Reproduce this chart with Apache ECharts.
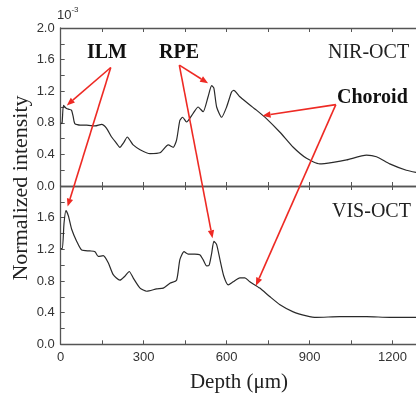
<!DOCTYPE html>
<html><head><meta charset="utf-8">
<script src="https://cdn.jsdelivr.net/npm/echarts@6/dist/echarts.min.js"></script>
<style>html,body{margin:0;padding:0;background:#fff}#c{width:416px;height:396px}</style>
</head><body><div id="c"></div>
<script>
// Depth (µm) and normalized intensity (×10^-3)
const nirDepth = [0,5,10,21,30,39,45,51,70,94,124,148,166,184,200,214,228,241,252,262,287,323,359,389,407,419,431,441,455,479,497,515,533,546,554,564,582,600,618,626,648,672,708,745,793,841,889,937,985,1034,1106,1142,1190,1250,1290];
const nirValues = [0.79,0.80,1.02,0.98,0.97,0.96,0.88,0.79,0.77,0.77,0.76,0.78,0.73,0.62,0.55,0.49,0.55,0.62,0.57,0.52,0.46,0.41,0.42,0.52,0.49,0.58,0.83,0.87,0.81,0.92,1.00,0.94,1.13,1.27,1.24,1.00,0.87,1.00,1.19,1.21,1.13,1.06,0.96,0.85,0.68,0.49,0.35,0.28,0.30,0.33,0.39,0.37,0.28,0.20,0.17];
const visDepth = [0,6,12,19,28,40,58,76,106,124,136,154,172,190,214,232,248,262,287,311,347,371,395,419,431,446,461,485,503,515,528,537,546,554,564,576,590,606,624,648,666,684,720,757,793,841,889,925,1009,1106,1190,1290];
const visValues = [1.21,1.21,1.53,1.69,1.62,1.45,1.30,1.19,1.18,1.17,1.11,1.12,1.03,0.88,0.81,0.86,0.92,0.84,0.71,0.67,0.70,0.71,0.77,0.81,1.07,1.17,1.14,1.14,1.13,1.07,0.99,1.00,1.15,1.30,1.26,1.07,0.86,0.75,0.79,0.84,0.84,0.79,0.71,0.60,0.50,0.41,0.36,0.34,0.35,0.35,0.34,0.34];
const xTicks = [0,300,600,900,1200];
const yTicksTop = [0.0,0.4,0.8,1.2,1.6,2.0];
const yTicksBottom = [0.0,0.4,0.8,1.2,1.6];
// annotation arrows: [fromX, fromY (top panel), toX, toY, target grid]
const arrows = [
  [181,1.50, 22,1.02, 0],
  [181,1.50, 25,1.74, 1],
  [429,1.53, 533,1.30, 0],
  [429,1.53, 549,1.34, 1],
  [995,1.03, 730,0.89, 0],
  [995,1.03, 706,0.74, 1]
];

const AXIS = '#555', LBL = '#333', RED = '#ee2a24';
const XMAX = 1285;
const chart = echarts.init(document.getElementById('c'), null, {renderer:'canvas'});
const W = XMAX*0.2767;
function xAx(gi, pos, labels){
  return {type:'value', gridIndex:gi, position:pos, min:0, max:XMAX, interval:150,
    axisLine:{show:true,onZero:false,lineStyle:{color:AXIS,width:1.3}},
    axisTick:{show:true,inside:true,length:4,lineStyle:{color:AXIS}},
    splitLine:{show:false},
    axisLabel:{show:labels,color:LBL,fontSize:13,fontFamily:'Liberation Sans',margin:7,
      showMaxLabel:false,
      formatter:v=>xTicks.includes(v)?String(v):''}};
}
function yAx(gi, ticks){
  return {type:'value', gridIndex:gi, min:0, max:2, interval:0.2,
    axisLine:{show:true,lineStyle:{color:AXIS,width:1.3}},
    axisTick:{show:true,inside:true,length:4,lineStyle:{color:AXIS}},
    splitLine:{show:false},
    axisLabel:{color:LBL,fontSize:13,fontFamily:'Liberation Sans',margin:6,
      formatter:v=>{const t=ticks.find(k=>Math.abs(k-v)<1e-6);return t===undefined?'':t.toFixed(1);}}};
}
const option = {
  animation:false,
  backgroundColor:'#fff',
  grid:[
    {left:60.7, top:28, width:W, height:158},
    {left:60.7, top:186, width:W, height:158.3}
  ],
  xAxis:[xAx(0,'bottom',false), xAx(0,'top',false), xAx(1,'bottom',true), xAx(1,'top',false)],
  yAxis:[yAx(0,yTicksTop), yAx(1,yTicksBottom)],
  series:[
    {type:'line', xAxisIndex:0, yAxisIndex:0, showSymbol:false, smooth:0.2,
     lineStyle:{color:'#2a2a2a',width:1.2}, data:nirDepth.map((d,i)=>[d,nirValues[i]])},
    {type:'line', xAxisIndex:2, yAxisIndex:1, showSymbol:false, smooth:0.2,
     lineStyle:{color:'#2a2a2a',width:1.2}, data:visDepth.map((d,i)=>[d,visValues[i]])}
  ]
};
chart.setOption(option);

const serif = 'Liberation Serif';
const graphics = [
  {type:'text', left:57, top:6, style:{text:'{a|10}{b|-3}', rich:{a:{fontSize:13,fontFamily:'Liberation Sans',fill:LBL,verticalAlign:'bottom'},b:{fontSize:8,fontFamily:'Liberation Sans',fill:LBL,verticalAlign:'top',padding:[0,0,8,0]}}}},
  {type:'text', x:21, y:188, rotation:Math.PI/2, style:{text:'Normalized intensity',fontSize:22,fontFamily:serif,fill:'#222',align:'center',verticalAlign:'middle'}},
  {type:'text', x:239, y:382, style:{text:'Depth (\u03bcm)',fontSize:21,fontFamily:serif,fill:'#222',align:'center',verticalAlign:'middle'}},
  {type:'text', x:107, y:53, style:{text:'ILM',fontSize:20,fontWeight:'bold',fontFamily:serif,fill:'#111',align:'center',verticalAlign:'middle'}},
  {type:'text', x:179, y:53, style:{text:'RPE',fontSize:20,fontWeight:'bold',fontFamily:serif,fill:'#111',align:'center',verticalAlign:'middle'}},
  {type:'text', x:328, y:53, style:{text:'NIR-OCT',fontSize:20,fontFamily:serif,fill:'#222',align:'left',verticalAlign:'middle'}},
  {type:'text', x:337, y:98, style:{text:'Choroid',fontSize:20,fontWeight:'bold',fontFamily:serif,fill:'#111',align:'left',verticalAlign:'middle'}},
  {type:'text', x:332, y:212, style:{text:'VIS-OCT',fontSize:20,fontFamily:serif,fill:'#222',align:'left',verticalAlign:'middle'}}
];
arrows.forEach(a=>{
  const p0 = chart.convertToPixel({gridIndex:0},[a[0],a[1]]);
  const p1 = chart.convertToPixel({gridIndex:a[4]},[a[2],a[3]]);
  const dx=p1[0]-p0[0], dy=p1[1]-p0[1], L=Math.hypot(dx,dy), ux=dx/L, uy=dy/L;
  const hl=8, hw=3.2;
  const bx=p1[0]-ux*hl, by=p1[1]-uy*hl;
  graphics.push({type:'line', shape:{x1:p0[0],y1:p0[1],x2:bx,y2:by}, style:{stroke:RED,lineWidth:1.6}, z:10});
  graphics.push({type:'polygon', shape:{points:[[p1[0],p1[1]],[bx-uy*hw,by+ux*hw],[bx+uy*hw,by-ux*hw]]}, style:{fill:RED}, z:10});
});
chart.setOption({graphic:graphics});
</script></body></html>
